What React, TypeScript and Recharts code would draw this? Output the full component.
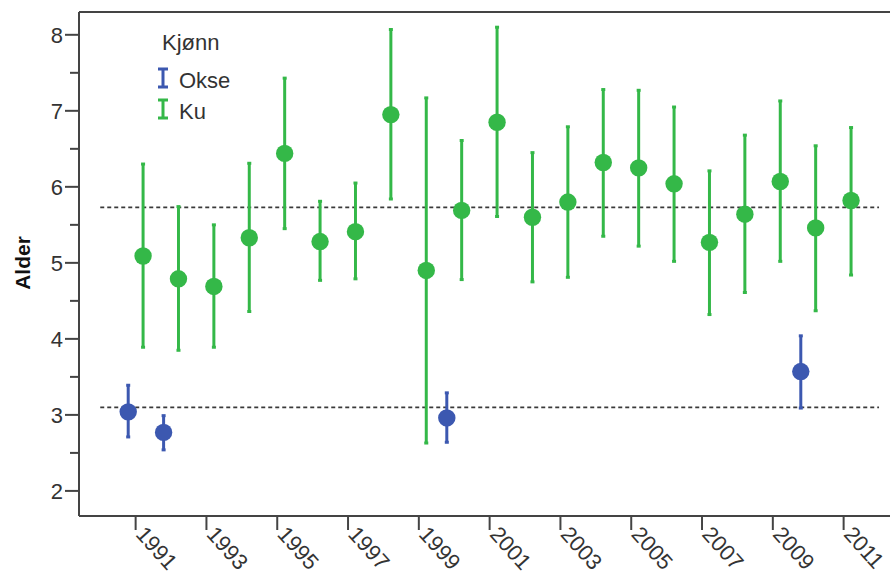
import React from 'react';
import {
  ComposedChart,
  Scatter,
  ErrorBar,
  XAxis,
  YAxis,
  ReferenceLine,
  Customized,
} from 'recharts';

// Mean age per year with 95% confidence interval, by sex
const years = [
  1991, 1992, 1993, 1994, 1995, 1996, 1997, 1998, 1999, 2000, 2001,
  2002, 2003, 2004, 2005, 2006, 2007, 2008, 2009, 2010, 2011,
];
const kuMean = [
  5.09, 4.79, 4.69, 5.33, 6.44, 5.28, 5.41, 6.95, 4.9, 5.69, 6.85,
  5.6, 5.8, 6.32, 6.25, 6.04, 5.27, 5.64, 6.07, 5.46, 5.82,
];
const kuLow = [
  3.89, 3.85, 3.89, 4.36, 5.45, 4.77, 4.79, 5.84, 2.63, 4.78, 5.61,
  4.75, 4.81, 5.35, 5.22, 5.02, 4.32, 4.61, 5.02, 4.37, 4.84,
];
const kuHigh = [
  6.3, 5.74, 5.5, 6.31, 7.43, 5.81, 6.05, 8.07, 7.17, 6.61, 8.1,
  6.45, 6.79, 7.28, 7.27, 7.05, 6.21, 6.68, 7.13, 6.54, 6.78,
];

const okseYears = [1991, 1992, 2000, 2010];
const okseMean = [3.04, 2.77, 2.96, 3.57];
const okseLow = [2.71, 2.54, 2.64, 3.09];
const okseHigh = [3.39, 2.99, 3.29, 4.04];

const kuOverall = 5.73;
const okseOverall = 3.1;

const xTicks = [1991, 1993, 1995, 1997, 1999, 2001, 2003, 2005, 2007, 2009, 2011];
const yTicks = [2, 2.5, 3, 3.5, 4, 4.5, 5, 5.5, 6, 6.5, 7, 7.5, 8];

const X_DOMAIN: [number, number] = [1989.4, 2012.31];
const Y_DOMAIN: [number, number] = [1.67, 8.3];

const KU = '#34b848';
const OKSE = '#3c58b0';
const AXIS = '#444444';
const TEXT = '#333333';
const FONT = '"Liberation Sans", Arial, sans-serif';

// sexes are dodged side by side within each year
const DODGE = 0.21;

const kuData = years.map((yr, i) => ({
  x: yr + DODGE,
  y: kuMean[i],
  err: [kuMean[i] - kuLow[i], kuHigh[i] - kuMean[i]],
}));

const okseData = okseYears.map((yr, i) => ({
  x: yr - DODGE,
  y: okseMean[i],
  err: [okseMean[i] - okseLow[i], okseHigh[i] - okseMean[i]],
}));

const YTick = (props: any) => {
  const { x, y, payload } = props;
  const v = payload.value as number;
  const major = Number.isInteger(v);
  return (
    <g>
      <line x1={x - (major ? 14 : 9)} x2={x} y1={y} y2={y} stroke={AXIS} strokeWidth={2} />
      {major && (
        <text
          x={x - 16}
          y={y}
          dy="0.36em"
          textAnchor="end"
          fontFamily={FONT}
          fontSize={22}
          fill={TEXT}
        >
          {v}
        </text>
      )}
    </g>
  );
};

const XTick = (props: any) => {
  const { x, y, payload } = props;
  const tx = x - 1;
  const ty = y + 19;
  return (
    <g>
      <line x1={x} x2={x} y1={y} y2={y + 14} stroke={AXIS} strokeWidth={2} />
      <text
        x={tx}
        y={ty}
        transform={`rotate(48 ${tx} ${ty})`}
        textAnchor="start"
        fontFamily={FONT}
        fontSize={22}
        fill={TEXT}
      >
        {payload.value}
      </text>
    </g>
  );
};

const dot = (color: string) => (p: any) => (
  <circle cx={p.cx} cy={p.cy} r={8.7} fill={color} />
);

const LegendIcon = ({ x, y, color }: { x: number; y: number; color: string }) => (
  <path
    d={`M${x - 5},${y} H${x + 5} M${x},${y} V${y + 18} M${x - 5},${y + 18} H${x + 5}`}
    stroke={color}
    strokeWidth={3}
    fill="none"
  />
);

const Decorations = () => (
  <g>
    <text
      x={30}
      y={263}
      transform="rotate(-90 30 263)"
      textAnchor="middle"
      fontFamily={FONT}
      fontWeight="bold"
      fontSize={21}
      fill="#111"
    >
      Alder
    </text>
    <text x={162} y={50} fontFamily={FONT} fontSize={22} fill={TEXT}>
      Kjønn
    </text>
    <LegendIcon x={163} y={69} color={OKSE} />
    <text x={179} y={88} fontFamily={FONT} fontSize={22} fill={TEXT}>
      Okse
    </text>
    <LegendIcon x={163} y={100} color={KU} />
    <text x={179} y={119} fontFamily={FONT} fontSize={22} fill={TEXT}>
      Ku
    </text>
  </g>
);

export default function App() {
  return (
    <div style={{ position: 'absolute', left: 0, top: 0, background: '#fff' }}>
      <ComposedChart
        width={890}
        height={577}
        margin={{ top: 12, right: 0, bottom: 0, left: 9 }}
      >
        <XAxis
          type="number"
          dataKey="x"
          domain={X_DOMAIN}
          allowDataOverflow
          ticks={xTicks}
          interval={0}
          height={61}
          tickSize={0}
          tickMargin={0}
          tick={<XTick />}
          axisLine={{ stroke: AXIS, strokeWidth: 2 }}
        />
        <YAxis
          type="number"
          dataKey="y"
          domain={Y_DOMAIN}
          allowDataOverflow
          ticks={yTicks}
          interval={0}
          width={70}
          tickSize={0}
          tickMargin={0}
          tick={<YTick />}
          axisLine={{ stroke: AXIS, strokeWidth: 2 }}
        />
        <ReferenceLine y={Y_DOMAIN[1]} stroke={AXIS} strokeWidth={2} />
        <ReferenceLine
          segment={[
            { x: 1990, y: kuOverall },
            { x: 2012, y: kuOverall },
          ]}
          stroke="#3a3a3a"
          strokeWidth={1.8}
          strokeDasharray="4 3"
        />
        <ReferenceLine
          segment={[
            { x: 1990, y: okseOverall },
            { x: 2012, y: okseOverall },
          ]}
          stroke="#3a3a3a"
          strokeWidth={1.8}
          strokeDasharray="4 3"
        />
        <Scatter
          name="Ku"
          data={kuData}
          fill={KU}
          shape={dot(KU)}
          isAnimationActive={false}
        >
          <ErrorBar dataKey="err" direction="y" width={2} stroke={KU} strokeWidth={3} />
        </Scatter>
        <Scatter
          name="Okse"
          data={okseData}
          fill={OKSE}
          shape={dot(OKSE)}
          isAnimationActive={false}
        >
          <ErrorBar dataKey="err" direction="y" width={2} stroke={OKSE} strokeWidth={3} />
        </Scatter>
        <Customized component={Decorations} />
      </ComposedChart>
    </div>
  );
}
